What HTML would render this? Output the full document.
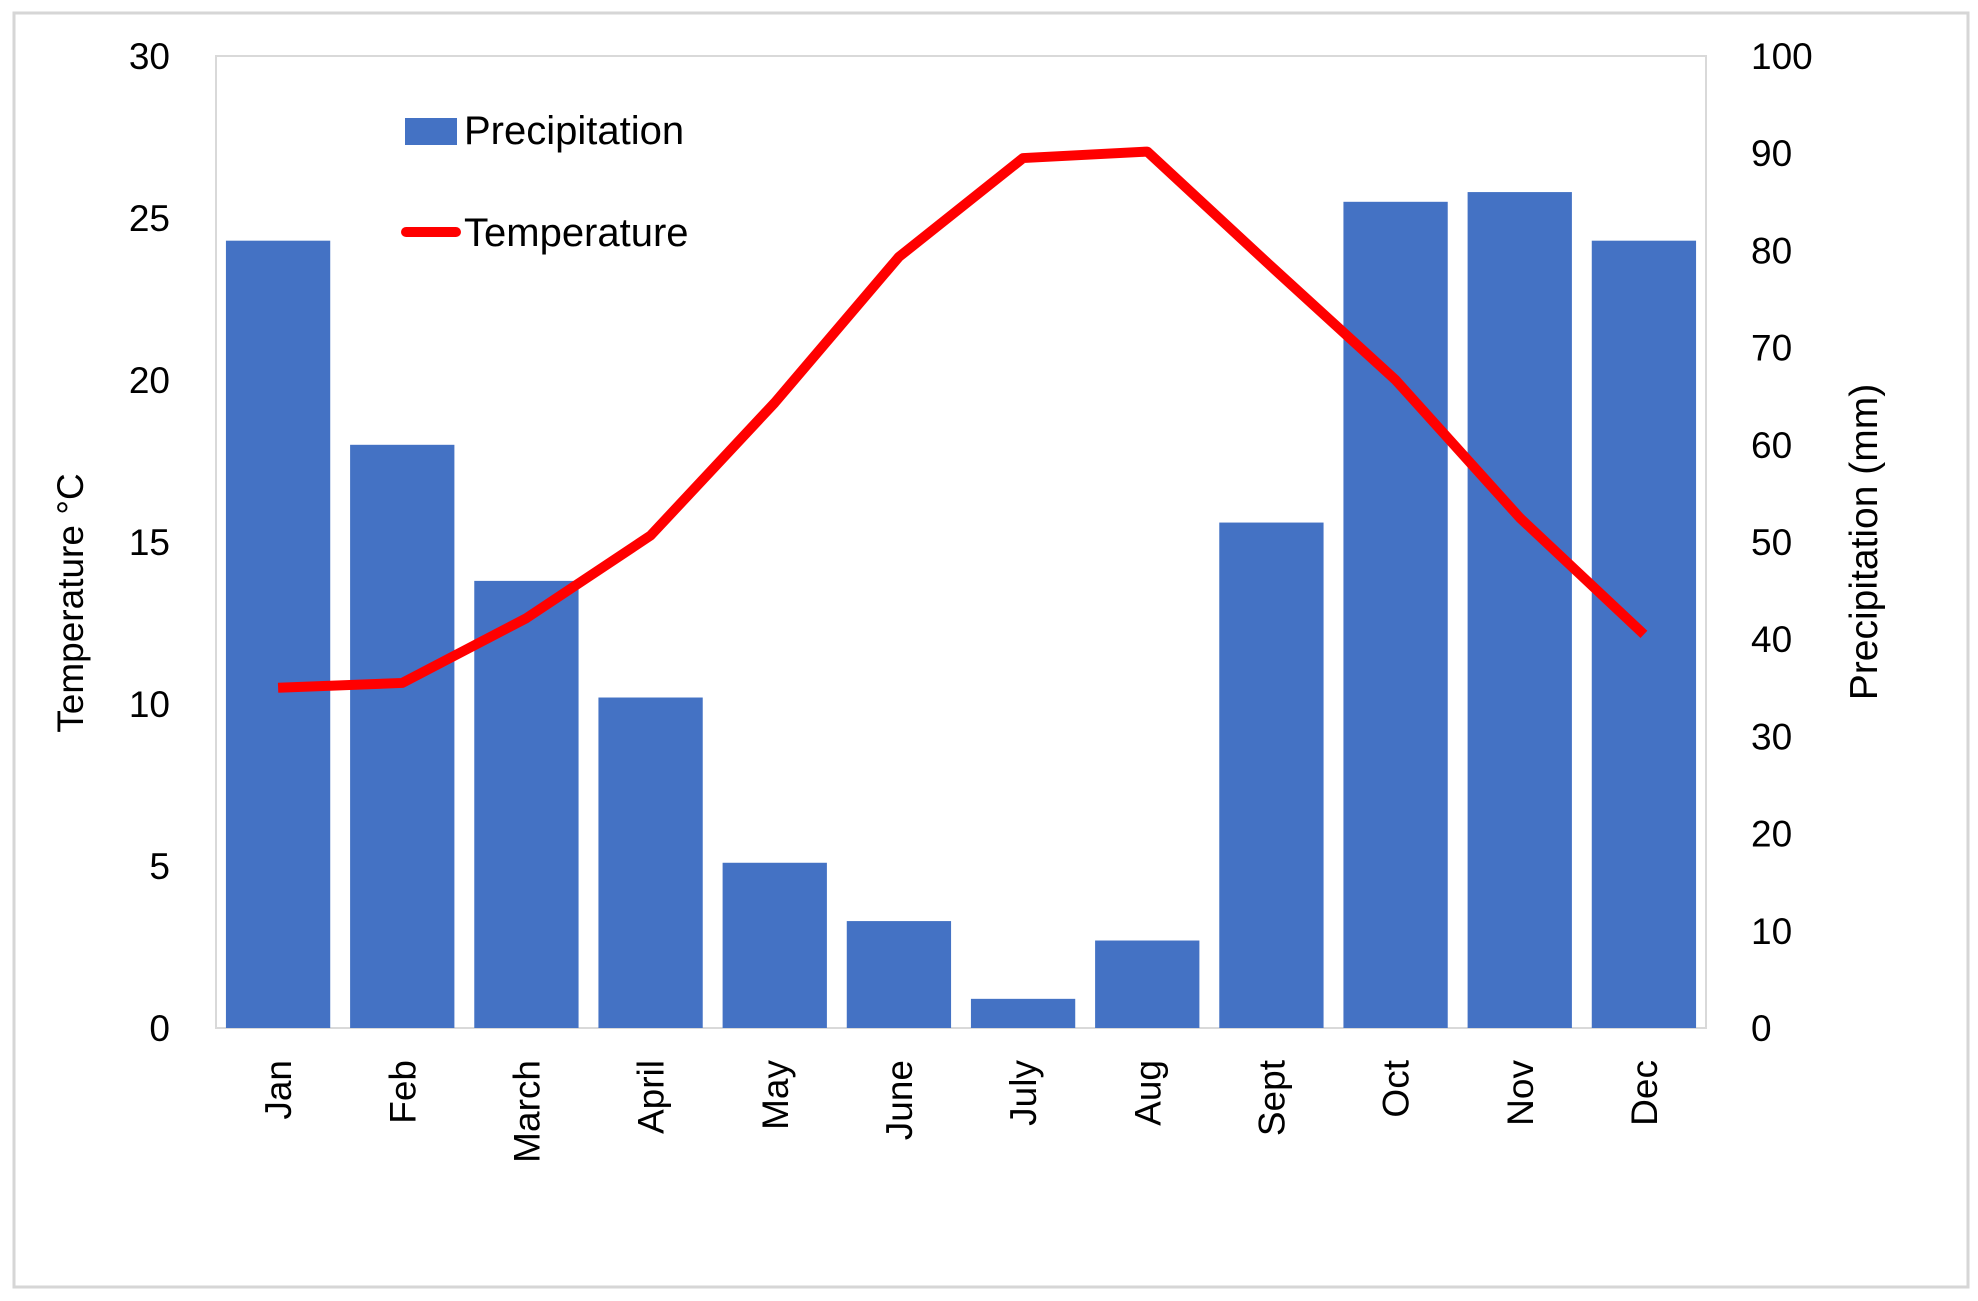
<!DOCTYPE html>
<html><head><meta charset="utf-8"><style>
html,body{margin:0;padding:0;background:#fff;}
svg{display:block;font-family:"Liberation Sans",sans-serif;}
</style></head><body>
<svg id="chart" width="1978" height="1301" viewBox="0 0 1978 1301">
<rect x="14" y="13" width="1954" height="1274" fill="#fff" stroke="#d6d6d6" stroke-width="3"/>
<rect x="216" y="56" width="1490" height="972" fill="#fff" stroke="#d9d9d9" stroke-width="2"/>
<g id="bars"></g>
<g id="line"></g>
<g id="leftTicks"></g>
<g id="rightTicks"></g>
<g id="cats"></g>
<text x="0" y="0" transform="translate(83,603) rotate(-90)" text-anchor="middle" font-size="37" fill="#000">Temperature °C</text>
<text x="0" y="0" transform="translate(1877,542) rotate(-90)" text-anchor="middle" font-size="39" fill="#000">Precipitation (mm)</text>
<g>
<rect x="405" y="118" width="52" height="27" fill="#4472C4"/>
<text x="464" y="144" font-size="40" fill="#000">Precipitation</text>
<line x1="406" y1="232" x2="456" y2="232" stroke="#FF0000" stroke-width="10" stroke-linecap="round"/>
<text x="464" y="246" font-size="40" fill="#000">Temperature</text>
</g>
</svg>
<script>
const categories = ["Jan","Feb","March","April","May","June","July","Aug","Sept","Oct","Nov","Dec"];
const precipitation = [81,60,46,34,17,11,3,9,52,85,86,81];
const temperature = [10.5,10.65,12.65,15.2,19.3,23.8,26.85,27.05,23.5,20.0,15.75,12.15];
const leftTickLabels = [0,5,10,15,20,25,30];
const rightTickLabels = [0,10,20,30,40,50,60,70,80,90,100];

const NS="http://www.w3.org/2000/svg";
const X0=216,X1=1706,Y0=1028,Y1=56;
const band=(X1-X0)/categories.length;
function xc(i){return X0+band*(i+0.5);}
function yT(v){return Y0-(v/30)*(Y0-Y1);}
function yP(v){return Y0-(v/100)*(Y0-Y1);}
function mk(tag,attrs,parent){const e=document.createElementNS(NS,tag);for(const k in attrs)e.setAttribute(k,attrs[k]);parent.appendChild(e);return e;}

const bars=document.getElementById('bars');
const bw=band*0.84;
precipitation.forEach((v,i)=>{
  const r=mk('rect',{x:xc(i)-bw/2,y:yP(v),width:bw,height:Y0-yP(v),fill:'#4472C4'},bars);
  
  
});
const lineG=document.getElementById('line');
const pts=temperature.map((v,i)=>xc(i)+','+yT(v)).join(' ');
const pl=mk('polyline',{points:pts,fill:'none',stroke:'#FF0000','stroke-width':10,'stroke-linejoin':'round'},lineG);



const lt=document.getElementById('leftTicks');
leftTickLabels.forEach(v=>{
  const t=mk('text',{x:170,y:yT(v)+13,'text-anchor':'end','font-size':37,fill:'#000'},lt);
  t.textContent=v;
  
  
});
const rt=document.getElementById('rightTicks');
rightTickLabels.forEach(v=>{
  const t=mk('text',{x:1751,y:yP(v)+13,'text-anchor':'start','font-size':37,fill:'#000'},rt);
  t.textContent=v;
  
  
});
const cg=document.getElementById('cats');
categories.forEach((c,i)=>{
  const t=mk('text',{x:0,y:0,transform:'translate('+(xc(i)+13)+',1060) rotate(-90)','text-anchor':'end','font-size':37,fill:'#000'},cg);
  t.textContent=c;
  
  
});
</script>
</body></html>
